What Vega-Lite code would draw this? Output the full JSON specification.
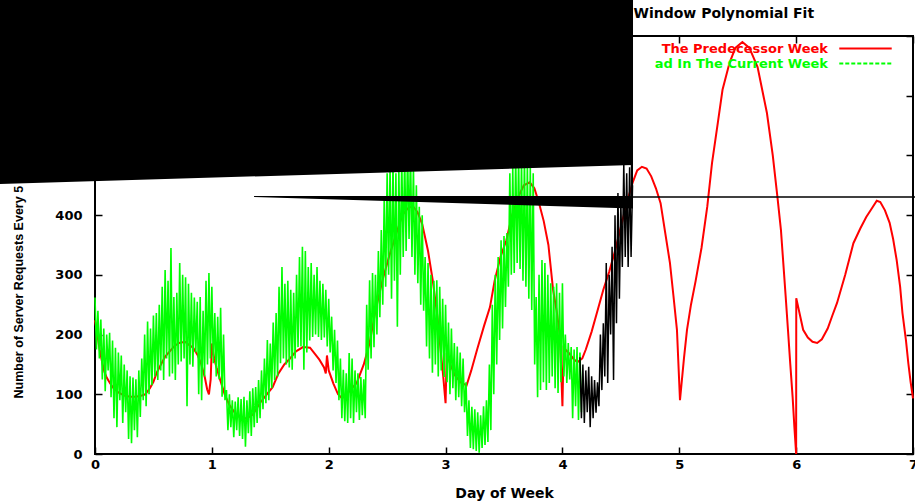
{
  "$schema": "https://vega.github.io/schema/vega-lite/v6.json",
  "width": 818,
  "height": 418,
  "autosize": {"type": "none"},
  "padding": {"left": 95, "top": 36, "right": 2, "bottom": 48},
  "background": "white",
  "config": {
    "font": "DejaVu Sans",
    "view": {"stroke": "black", "strokeWidth": 2},
    "axis": {
      "labelFont": "DejaVu Sans", "labelFontWeight": "bold", "labelFontSize": 13, "labelColor": "black",
      "tickColor": "black", "tickWidth": 1.5, "grid": false, "domain": false,
      "titleFont": "DejaVu Sans", "titleFontWeight": "bold", "titleColor": "black", "titleFontSize": 14
    }
  },
  "datasets": {
    "red": [
      {"day":0.00,"req":224},{"day":0.02,"req":200},{"day":0.04,"req":175},{"day":0.06,"req":155},{"day":0.08,"req":138},{"day":0.10,"req":128},{"day":0.13,"req":118},{"day":0.16,"req":110},{"day":0.20,"req":103},{"day":0.25,"req":98},{"day":0.30,"req":96},{"day":0.35,"req":96},{"day":0.40,"req":98},{"day":0.43,"req":100},{"day":0.47,"req":110},{"day":0.50,"req":121},{"day":0.53,"req":137},{"day":0.57,"req":152},{"day":0.60,"req":163},{"day":0.64,"req":172},{"day":0.68,"req":181},{"day":0.72,"req":186},{"day":0.77,"req":188},{"day":0.81,"req":182},{"day":0.84,"req":178},{"day":0.88,"req":165},{"day":0.91,"req":150},{"day":0.94,"req":128},{"day":0.96,"req":108},{"day":0.975,"req":100},{"day":0.99,"req":125},{"day":1.00,"req":185},{"day":1.02,"req":160},{"day":1.04,"req":145},{"day":1.07,"req":125},{"day":1.11,"req":100},{"day":1.15,"req":82},{"day":1.20,"req":68},{"day":1.25,"req":60},{"day":1.30,"req":60},{"day":1.35,"req":66},{"day":1.41,"req":85},{"day":1.47,"req":100},{"day":1.52,"req":112},{"day":1.57,"req":135},{"day":1.62,"req":150},{"day":1.67,"req":160},{"day":1.72,"req":172},{"day":1.78,"req":179},{"day":1.84,"req":178},{"day":1.88,"req":168},{"day":1.92,"req":158},{"day":1.96,"req":145},{"day":1.975,"req":135},{"day":1.985,"req":165},{"day":2.00,"req":140},{"day":2.04,"req":118},{"day":2.08,"req":100},{"day":2.11,"req":94},{"day":2.14,"req":96},{"day":2.18,"req":106},{"day":2.24,"req":119},{"day":2.30,"req":150},{"day":2.35,"req":186},{"day":2.40,"req":240},{"day":2.46,"req":291},{"day":2.52,"req":333},{"day":2.58,"req":370},{"day":2.63,"req":400},{"day":2.68,"req":412},{"day":2.72,"req":415},{"day":2.76,"req":405},{"day":2.80,"req":385},{"day":2.85,"req":340},{"day":2.89,"req":291},{"day":2.93,"req":230},{"day":2.96,"req":170},{"day":2.98,"req":130},{"day":3.00,"req":85},{"day":3.01,"req":169},{"day":3.04,"req":150},{"day":3.08,"req":132},{"day":3.13,"req":120},{"day":3.18,"req":115},{"day":3.22,"req":140},{"day":3.27,"req":175},{"day":3.33,"req":215},{"day":3.38,"req":246},{"day":3.42,"req":290},{"day":3.47,"req":330},{"day":3.52,"req":358},{"day":3.57,"req":400},{"day":3.62,"req":430},{"day":3.67,"req":450},{"day":3.72,"req":455},{"day":3.76,"req":445},{"day":3.80,"req":420},{"day":3.84,"req":390},{"day":3.88,"req":350},{"day":3.92,"req":275},{"day":3.95,"req":240},{"day":3.98,"req":196},{"day":4.00,"req":80},{"day":4.01,"req":178},{"day":4.06,"req":168},{"day":4.10,"req":158},{"day":4.13,"req":154},{"day":4.17,"req":160},{"day":4.20,"req":175},{"day":4.25,"req":205},{"day":4.30,"req":240},{"day":4.35,"req":275},{"day":4.40,"req":305},{"day":4.45,"req":340},{"day":4.50,"req":380},{"day":4.55,"req":420},{"day":4.60,"req":454},{"day":4.64,"req":475},{"day":4.68,"req":481},{"day":4.72,"req":478},{"day":4.76,"req":465},{"day":4.80,"req":445},{"day":4.84,"req":420},{"day":4.88,"req":370},{"day":4.92,"req":320},{"day":4.95,"req":265},{"day":4.98,"req":208},{"day":5.006,"req":90},{"day":5.04,"req":160},{"day":5.066,"req":208},{"day":5.10,"req":250},{"day":5.14,"req":290},{"day":5.19,"req":345},{"day":5.24,"req":415},{"day":5.28,"req":487},{"day":5.33,"req":555},{"day":5.37,"req":610},{"day":5.43,"req":655},{"day":5.48,"req":680},{"day":5.54,"req":690},{"day":5.60,"req":680},{"day":5.67,"req":648},{"day":5.75,"req":571},{"day":5.80,"req":500},{"day":5.84,"req":430},{"day":5.87,"req":375},{"day":5.89,"req":320},{"day":5.91,"req":265},{"day":5.93,"req":208},{"day":5.95,"req":150},{"day":5.97,"req":95},{"day":5.985,"req":45},{"day":6.00,"req":0},{"day":6.001,"req":261},{"day":6.03,"req":235},{"day":6.06,"req":208},{"day":6.10,"req":195},{"day":6.14,"req":188},{"day":6.18,"req":186},{"day":6.22,"req":192},{"day":6.27,"req":210},{"day":6.31,"req":232},{"day":6.35,"req":253},{"day":6.42,"req":300},{"day":6.49,"req":353},{"day":6.55,"req":378},{"day":6.60,"req":397},{"day":6.65,"req":412},{"day":6.69,"req":424},{"day":6.72,"req":422},{"day":6.76,"req":408},{"day":6.80,"req":387},{"day":6.83,"req":360},{"day":6.86,"req":325},{"day":6.89,"req":280},{"day":6.91,"req":236},{"day":6.94,"req":190},{"day":6.96,"req":152},{"day":6.98,"req":120},{"day":7.00,"req":93}
    ],
    "green": [
      {"day":0.0000,"req":262},{"day":0.0125,"req":175},{"day":0.0250,"req":240},{"day":0.0375,"req":160},{"day":0.0500,"req":225},{"day":0.0625,"req":125},{"day":0.0750,"req":210},{"day":0.0875,"req":105},{"day":0.1000,"req":200},{"day":0.1125,"req":140},{"day":0.1250,"req":203},{"day":0.1375,"req":95},{"day":0.1500,"req":190},{"day":0.1625,"req":60},{"day":0.1750,"req":178},{"day":0.1875,"req":45},{"day":0.2000,"req":170},{"day":0.2125,"req":90},{"day":0.2250,"req":165},{"day":0.2375,"req":52},{"day":0.2500,"req":150},{"day":0.2625,"req":70},{"day":0.2750,"req":140},{"day":0.2875,"req":25},{"day":0.3000,"req":130},{"day":0.3125,"req":18},{"day":0.3250,"req":128},{"day":0.3375,"req":40},{"day":0.3500,"req":125},{"day":0.3625,"req":28},{"day":0.3750,"req":140},{"day":0.3875,"req":62},{"day":0.4000,"req":160},{"day":0.4125,"req":90},{"day":0.4250,"req":200},{"day":0.4375,"req":80},{"day":0.4500,"req":222},{"day":0.4625,"req":100},{"day":0.4750,"req":210},{"day":0.4875,"req":115},{"day":0.5000,"req":232},{"day":0.5125,"req":130},{"day":0.5250,"req":236},{"day":0.5375,"req":124},{"day":0.5500,"req":250},{"day":0.5625,"req":140},{"day":0.5750,"req":280},{"day":0.5875,"req":124},{"day":0.6000,"req":308},{"day":0.6125,"req":160},{"day":0.6250,"req":290},{"day":0.6375,"req":130},{"day":0.6500,"req":345},{"day":0.6625,"req":135},{"day":0.6750,"req":263},{"day":0.6875,"req":124},{"day":0.7000,"req":270},{"day":0.7125,"req":150},{"day":0.7250,"req":320},{"day":0.7375,"req":155},{"day":0.7500,"req":300},{"day":0.7625,"req":160},{"day":0.7750,"req":296},{"day":0.7875,"req":80},{"day":0.8000,"req":285},{"day":0.8125,"req":150},{"day":0.8250,"req":270},{"day":0.8375,"req":146},{"day":0.8500,"req":262},{"day":0.8625,"req":170},{"day":0.8750,"req":255},{"day":0.8875,"req":100},{"day":0.9000,"req":263},{"day":0.9125,"req":90},{"day":0.9250,"req":240},{"day":0.9375,"req":130},{"day":0.9500,"req":290},{"day":0.9625,"req":150},{"day":0.9750,"req":303},{"day":0.9875,"req":160},{"day":1.0000,"req":280},{"day":1.0125,"req":152},{"day":1.0250,"req":236},{"day":1.0375,"req":130},{"day":1.0500,"req":230},{"day":1.0625,"req":125},{"day":1.0750,"req":245},{"day":1.0875,"req":96},{"day":1.1000,"req":200},{"day":1.1125,"req":90},{"day":1.1250,"req":107},{"day":1.1375,"req":40},{"day":1.1500,"req":100},{"day":1.1625,"req":45},{"day":1.1750,"req":90},{"day":1.1875,"req":28},{"day":1.2000,"req":88},{"day":1.2125,"req":40},{"day":1.2250,"req":95},{"day":1.2375,"req":30},{"day":1.2500,"req":92},{"day":1.2625,"req":25},{"day":1.2750,"req":96},{"day":1.2875,"req":12},{"day":1.3000,"req":90},{"day":1.3125,"req":35},{"day":1.3250,"req":105},{"day":1.3375,"req":30},{"day":1.3500,"req":110},{"day":1.3625,"req":45},{"day":1.3750,"req":112},{"day":1.3875,"req":52},{"day":1.4000,"req":124},{"day":1.4125,"req":60},{"day":1.4250,"req":140},{"day":1.4375,"req":75},{"day":1.4500,"req":160},{"day":1.4625,"req":85},{"day":1.4750,"req":191},{"day":1.4875,"req":90},{"day":1.5000,"req":185},{"day":1.5125,"req":110},{"day":1.5250,"req":220},{"day":1.5375,"req":124},{"day":1.5500,"req":236},{"day":1.5625,"req":130},{"day":1.5750,"req":280},{"day":1.5875,"req":152},{"day":1.6000,"req":313},{"day":1.6125,"req":160},{"day":1.6250,"req":285},{"day":1.6375,"req":150},{"day":1.6500,"req":290},{"day":1.6625,"req":145},{"day":1.6750,"req":275},{"day":1.6875,"req":141},{"day":1.7000,"req":270},{"day":1.7125,"req":160},{"day":1.7250,"req":300},{"day":1.7375,"req":179},{"day":1.7500,"req":330},{"day":1.7625,"req":180},{"day":1.7750,"req":347},{"day":1.7875,"req":141},{"day":1.8000,"req":340},{"day":1.8125,"req":170},{"day":1.8250,"req":313},{"day":1.8375,"req":190},{"day":1.8500,"req":320},{"day":1.8625,"req":196},{"day":1.8750,"req":300},{"day":1.8875,"req":200},{"day":1.9000,"req":313},{"day":1.9125,"req":196},{"day":1.9250,"req":290},{"day":1.9375,"req":191},{"day":1.9500,"req":285},{"day":1.9625,"req":195},{"day":1.9750,"req":275},{"day":1.9875,"req":180},{"day":2.0000,"req":260},{"day":2.0125,"req":170},{"day":2.0250,"req":230},{"day":2.0375,"req":140},{"day":2.0500,"req":208},{"day":2.0625,"req":119},{"day":2.0750,"req":190},{"day":2.0875,"req":90},{"day":2.1000,"req":160},{"day":2.1125,"req":60},{"day":2.1250,"req":141},{"day":2.1375,"req":55},{"day":2.1500,"req":135},{"day":2.1625,"req":52},{"day":2.1750,"req":169},{"day":2.1875,"req":60},{"day":2.2000,"req":160},{"day":2.2125,"req":52},{"day":2.2250,"req":140},{"day":2.2375,"req":70},{"day":2.2500,"req":135},{"day":2.2625,"req":57},{"day":2.2750,"req":129},{"day":2.2875,"req":65},{"day":2.3000,"req":125},{"day":2.3125,"req":60},{"day":2.3250,"req":250},{"day":2.3375,"req":141},{"day":2.3500,"req":291},{"day":2.3625,"req":160},{"day":2.3750,"req":303},{"day":2.3875,"req":179},{"day":2.4000,"req":300},{"day":2.4125,"req":200},{"day":2.4250,"req":340},{"day":2.4375,"req":229},{"day":2.4500,"req":375},{"day":2.4625,"req":250},{"day":2.4750,"req":430},{"day":2.4875,"req":280},{"day":2.5000,"req":470},{"day":2.5125,"req":300},{"day":2.5250,"req":480},{"day":2.5375,"req":260},{"day":2.5500,"req":490},{"day":2.5625,"req":290},{"day":2.5750,"req":470},{"day":2.5875,"req":213},{"day":2.6000,"req":480},{"day":2.6125,"req":300},{"day":2.6250,"req":495},{"day":2.6375,"req":330},{"day":2.6500,"req":500},{"day":2.6625,"req":340},{"day":2.6750,"req":510},{"day":2.6875,"req":360},{"day":2.7000,"req":505},{"day":2.7125,"req":330},{"day":2.7250,"req":480},{"day":2.7375,"req":300},{"day":2.7500,"req":450},{"day":2.7625,"req":286},{"day":2.7750,"req":414},{"day":2.7875,"req":250},{"day":2.8000,"req":400},{"day":2.8125,"req":240},{"day":2.8250,"req":330},{"day":2.8375,"req":180},{"day":2.8500,"req":320},{"day":2.8625,"req":160},{"day":2.8750,"req":300},{"day":2.8875,"req":136},{"day":2.9000,"req":290},{"day":2.9125,"req":150},{"day":2.9250,"req":291},{"day":2.9375,"req":130},{"day":2.9500,"req":280},{"day":2.9625,"req":140},{"day":2.9750,"req":260},{"day":2.9875,"req":129},{"day":3.0000,"req":250},{"day":3.0125,"req":120},{"day":3.0250,"req":220},{"day":3.0375,"req":100},{"day":3.0500,"req":210},{"day":3.0625,"req":110},{"day":3.0750,"req":186},{"day":3.0875,"req":90},{"day":3.1000,"req":180},{"day":3.1125,"req":95},{"day":3.1250,"req":170},{"day":3.1375,"req":80},{"day":3.1500,"req":160},{"day":3.1625,"req":70},{"day":3.1750,"req":120},{"day":3.1875,"req":30},{"day":3.2000,"req":90},{"day":3.2125,"req":10},{"day":3.2250,"req":79},{"day":3.2375,"req":8},{"day":3.2500,"req":75},{"day":3.2625,"req":5},{"day":3.2750,"req":70},{"day":3.2875,"req":2},{"day":3.3000,"req":65},{"day":3.3125,"req":10},{"day":3.3250,"req":80},{"day":3.3375,"req":15},{"day":3.3500,"req":90},{"day":3.3625,"req":20},{"day":3.3750,"req":150},{"day":3.3875,"req":40},{"day":3.4000,"req":250},{"day":3.4125,"req":100},{"day":3.4250,"req":300},{"day":3.4375,"req":150},{"day":3.4500,"req":330},{"day":3.4625,"req":191},{"day":3.4750,"req":358},{"day":3.4875,"req":210},{"day":3.5000,"req":365},{"day":3.5125,"req":246},{"day":3.5250,"req":370},{"day":3.5375,"req":280},{"day":3.5500,"req":470},{"day":3.5625,"req":300},{"day":3.5750,"req":480},{"day":3.5875,"req":303},{"day":3.6000,"req":500},{"day":3.6125,"req":320},{"day":3.6250,"req":495},{"day":3.6375,"req":310},{"day":3.6500,"req":490},{"day":3.6625,"req":290},{"day":3.6750,"req":495},{"day":3.6875,"req":280},{"day":3.7000,"req":485},{"day":3.7125,"req":260},{"day":3.7250,"req":480},{"day":3.7375,"req":241},{"day":3.7500,"req":470},{"day":3.7625,"req":150},{"day":3.7750,"req":263},{"day":3.7875,"req":95},{"day":3.8000,"req":300},{"day":3.8125,"req":107},{"day":3.8250,"req":325},{"day":3.8375,"req":120},{"day":3.8500,"req":320},{"day":3.8625,"req":107},{"day":3.8750,"req":300},{"day":3.8875,"req":119},{"day":3.9000,"req":286},{"day":3.9125,"req":130},{"day":3.9250,"req":280},{"day":3.9375,"req":110},{"day":3.9500,"req":286},{"day":3.9625,"req":102},{"day":3.9750,"req":270},{"day":3.9875,"req":120},{"day":4.0000,"req":286},{"day":4.0125,"req":130},{"day":4.0250,"req":200},{"day":4.0375,"req":119},{"day":4.0500,"req":186},{"day":4.0625,"req":125},{"day":4.0750,"req":179},{"day":4.0875,"req":60},{"day":4.1000,"req":175},{"day":4.1125,"req":80},{"day":4.1250,"req":179},{"day":4.1375,"req":57},{"day":4.1500,"req":170},{"day":4.1625,"req":70}
    ],
    "black": [
      {"day":4.1500,"req":162},{"day":4.1625,"req":60},{"day":4.1750,"req":150},{"day":4.1875,"req":52},{"day":4.2000,"req":140},{"day":4.2125,"req":70},{"day":4.2250,"req":146},{"day":4.2375,"req":45},{"day":4.2500,"req":130},{"day":4.2625,"req":60},{"day":4.2750,"req":124},{"day":4.2875,"req":69},{"day":4.3000,"req":120},{"day":4.3125,"req":80},{"day":4.3250,"req":200},{"day":4.3375,"req":107},{"day":4.3500,"req":219},{"day":4.3625,"req":130},{"day":4.3750,"req":320},{"day":4.3875,"req":119},{"day":4.4000,"req":300},{"day":4.4125,"req":200},{"day":4.4250,"req":347},{"day":4.4375,"req":124},{"day":4.4500,"req":400},{"day":4.4625,"req":219},{"day":4.4750,"req":437},{"day":4.4875,"req":260},{"day":4.5000,"req":420},{"day":4.5125,"req":313},{"day":4.5250,"req":487},{"day":4.5375,"req":330},{"day":4.5500,"req":470},{"day":4.5625,"req":313},{"day":4.5750,"req":480},{"day":4.5875,"req":330},{"day":4.6000,"req":450}
    ],
    "occluder": [
      {"part":"a","day":-0.82,"top":765,"bottom":452},{"part":"a","day":4.604,"top":765,"bottom":484},
      {"part":"b","day":1.361,"top":432,"bottom":430.4},{"part":"b","day":4.604,"top":432,"bottom":411},
      {"part":"c","day":4.585,"top":485,"bottom":430},{"part":"c","day":4.604,"top":485,"bottom":430},
      {"part":"d","day":4.604,"top":431.8,"bottom":429},{"part":"d","day":7.02,"top":431.8,"bottom":429}
    ]
  },
  "resolve": {"axis": {"x": "independent", "y": "independent"}},
  "layer": [
    {
      "data": {"name": "red"},
      "mark": {"type": "line", "strokeWidth": 2, "interpolate": "linear"},
      "encoding": {
        "x": {"field": "day", "type": "quantitative", "scale": {"domain": [0, 7], "nice": false, "zero": false},
          "axis": {"orient": "top", "values": [0,1,2,3,4,5,6,7], "tickSize": -7, "labels": false,
            "title": "Window Polynomial Fit", "titleX": 538, "titleY": -23, "titleAlign": "left", "titleBaseline": "middle", "titleFontSize": 14}},
        "y": {"field": "req", "type": "quantitative", "scale": {"domain": [0, 700], "nice": false},
          "axis": {"orient": "right", "values": [0,100,200,300,400,500,600,700], "tickSize": -7, "labels": false, "title": null}},
        "color": {"datum": "The Predecessor Week", "type": "nominal"}
      }
    },
    {
      "data": {"name": "green"},
      "mark": {"type": "line", "strokeWidth": 1.6, "interpolate": "linear"},
      "encoding": {
        "x": {"field": "day", "type": "quantitative", "scale": {"domain": [0, 7], "nice": false, "zero": false},
          "axis": {"orient": "bottom", "values": [0,1,2,3,4,5,6,7], "tickSize": -7, "labelPadding": 11, "labelFlush": false,
            "title": "Day of Week", "titleY": 39, "titleBaseline": "middle"}},
        "y": {"field": "req", "type": "quantitative", "scale": {"domain": [0, 700], "nice": false},
          "axis": {"orient": "left", "values": [0,100,200,300,400,500,600,700], "tickSize": -7, "labelPadding": 20,
            "title": "Number of Server Requests Every 5 Minutes", "titleFont": "Liberation Sans", "titleFontSize": 12.5,
            "titleX": -77, "titleY": 362, "titleAngle": 270, "titleAlign": "left", "titleBaseline": "middle"}},
        "color": {"datum": "ad In The Current Week", "type": "nominal",
          "scale": {"domain": ["The Predecessor Week", "ad In The Current Week"], "range": ["#ff0000", "#00ff00"]},
          "legend": {"orient": "none", "legendX": 764, "legendY": 6, "title": null, "padding": 0,
            "labelAlign": "right", "labelOffset": -44, "labelFont": "DejaVu Sans", "labelFontWeight": "bold", "labelFontSize": 13,
            "labelLimit": 400, "symbolType": "M-5,0H5", "symbolSize": 110, "symbolStrokeWidth": 2, "rowPadding": 1,
            "encode": {
              "labels": {"update": {"fill": {"scale": "color", "field": "value"}}},
              "symbols": {"update": {"strokeDash": {"signal": "datum.value === 'ad In The Current Week' ? [4,2] : [1,0]"}}}
            }}}
      }
    },
    {
      "data": {"name": "black"},
      "mark": {"type": "line", "strokeWidth": 1.5, "color": "#000000"},
      "encoding": {
        "x": {"field": "day", "type": "quantitative", "scale": {"domain": [0, 7], "nice": false, "zero": false}, "axis": null},
        "y": {"field": "req", "type": "quantitative", "scale": {"domain": [0, 700], "nice": false}, "axis": null}
      }
    },
    {
      "data": {"name": "occluder"},
      "mark": {"type": "area", "color": "#000000", "opacity": 1},
      "encoding": {
        "x": {"field": "day", "type": "quantitative", "scale": {"domain": [0, 7], "nice": false, "zero": false}, "axis": null},
        "y": {"field": "top", "type": "quantitative", "scale": {"domain": [0, 700], "nice": false}, "axis": null},
        "y2": {"field": "bottom"},
        "detail": {"field": "part", "type": "nominal"}
      }
    }
  ]
}
